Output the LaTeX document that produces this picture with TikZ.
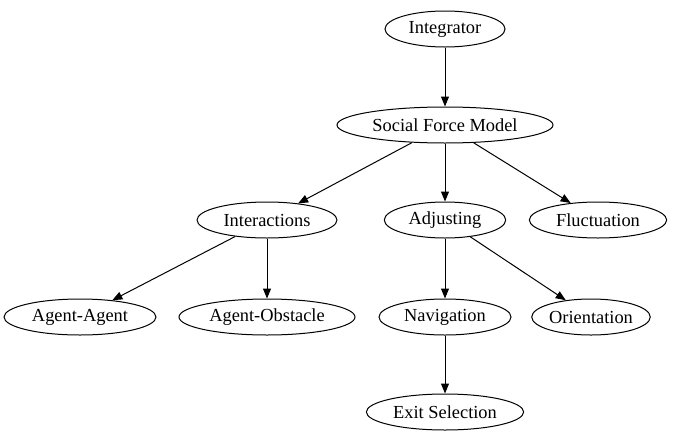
\documentclass[tikz,border=0pt]{standalone}
\usepackage{fontspec}
\setmainfont{Liberation Serif}
\usetikzlibrary{shapes.geometric,arrows.meta}

\begin{document}
\begin{tikzpicture}[x=0.75pt,y=0.75pt,yscale=-1,xscale=1,
	box/.style={draw, ellipse, line width=0.75pt, inner sep=0pt, minimum height=27pt, font=\fontsize{13.8}{15}\selectfont},
	edge/.style={line width=0.75pt, -{Triangle[length=7.5pt,width=6pt]}}]
			\useasboundingbox (0,0) rectangle (678,443); %diagram is 678 by 443

			% Level 0
			\node [box, minimum width=90pt]  (integ)  at (445,29)  {Integrator};
			% Level 1
			\node [box, minimum width=162pt] (sfm)    at (445,125) {Social Force Model};
			% Level 2
			\node [box, minimum width=105pt] (inter)  at (267,220) {Interactions};
			\node [box, minimum width=91pt]  (adjust) at (445,220) {Adjusting};
			\node [box, minimum width=103pt] (fluct)  at (598,220) {Fluctuation};
			% Level 3
			\node [box, minimum width=114pt] (agag)   at (80,317)  {Agent-Agent};
			\node [box, minimum width=132pt] (agobs)  at (267,317) {Agent-Obstacle};
			\node [box, minimum width=99pt]  (navig)  at (445,317) {Navigation};
			\node [box, minimum width=82pt]  (orient) at (591,317) {Orientation};
			% Level 4
			\node [box, minimum width=118pt] (exit)   at (445,412) {Exit Selection};

			% Edges
			\draw [edge] (integ) -- (sfm);
			\draw [edge] (sfm) -- (inter);
			\draw [edge] (sfm) -- (adjust);
			\draw [edge] (sfm) -- (fluct);
			\draw [edge] (inter) -- (agag);
			\draw [edge] (inter) -- (agobs);
			\draw [edge] (adjust) -- (navig);
			\draw [edge] (adjust) -- (orient);
			\draw [edge] (navig) -- (exit);

\end{tikzpicture}
\end{document}
